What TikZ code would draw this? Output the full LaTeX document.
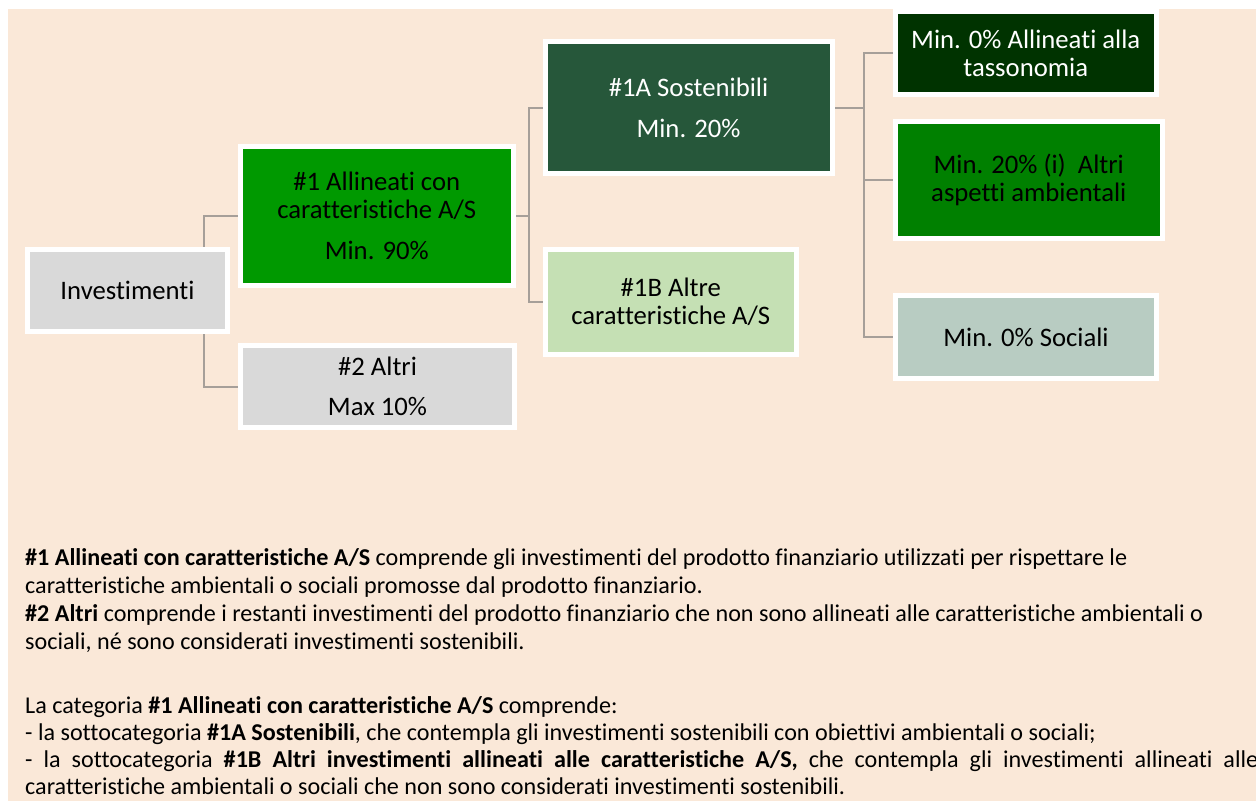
\documentclass[tikz,border=0pt]{standalone}
\usepackage{fontspec}
\setmainfont{Carlito}[Ligatures={NoCommon}]
\usetikzlibrary{calc}
\pgfdeclarelayer{back}
\pgfdeclarelayer{lines}
\pgfsetlayers{back,lines,main}
\definecolor{bgpeach}{RGB}{250,232,216}
\definecolor{cinv}{RGB}{217,217,217}
\definecolor{ca1}{RGB}{0,153,0}
\definecolor{cs1a}{RGB}{38,87,58}
\definecolor{cs1b}{RGB}{197,224,180}
\definecolor{ct0}{RGB}{0,51,0}
\definecolor{ct20}{RGB}{0,128,0}
\definecolor{csoc}{RGB}{184,204,194}
\definecolor{connc}{RGB}{166,159,153}
\newlength\mylw
\newlength\mylwb
\begin{document}
\global\setbox1=\hbox{\normalfont\fontsize{10}{12}\selectfont caratteristiche A/S}
\global\mylw=\wd1
\global\setbox2=\hbox{\normalfont\fontsize{10}{12}\selectfont\textbf{\#1 Allineati con caratteristiche A/S} comprende gli investimenti del prodotto finanziario utilizzati per rispettare le}
\global\mylwb=\wd2
\begin{tikzpicture}[x=1pt,y=-1pt,
  box/.style={draw=white, line width=5pt, inner sep=0pt, align=center,
    font=\fontsize{\boxfs}{28}\selectfont},
  conn/.style={draw=connc, line width=2pt},
  body/.style={anchor=base west, inner sep=0pt, font=\fontsize{\bodyfs}{26}\selectfont}]
\pgfmathsetmacro\boxfs{10*199/\mylw}
\pgfmathsetmacro\bodyfs{10*1102/\mylwb}
\useasboundingbox (0,0) rectangle (1256,801);
\begin{pgfonlayer}{back}
\fill[white] (0,0) rectangle (1256,801);
\fill[bgpeach] (8,9) rectangle (1256,801);
\end{pgfonlayer}
% boxes
\node[box, fill=cinv, minimum width=200, minimum height=82] (inv) at (127.5,290.5) {Investimenti};
\node[box, fill=ca1, minimum width=273.5, minimum height=139] (a1) at (376.75,216) {\#1 Allineati con\\caratteristiche A/S\\[12.5pt]Min. 90\%};
\node[box, fill=cinv, minimum width=274, minimum height=82] (a2) at (377.5,386.5) {\#2 Altri\\[12pt]Max 10\%};
\node[box, fill=cs1a, text=white, minimum width=287, minimum height=132] (s1a) at (688.5,107.5) {\#1A Sostenibili\\[13pt]Min. 20\%};
\node[box, fill=cs1b, minimum width=251.5, minimum height=105] (s1b) at (670.75,302) {\#1B Altre\\caratteristiche A/S};
\node[box, fill=ct0, text=white, minimum width=260.5, minimum height=83] (t0) at (1025.75,53) {Min. 0\% Allineati alla\\tassonomia};
\node[box, fill=ct20, minimum width=266.5, minimum height=117] (t20) at (1028.75,180) {Min. 20\% (i)\ \ Altri\\aspetti ambientali};
\node[box, fill=csoc, minimum width=261, minimum height=83] (soc) at (1026,337) {Min. 0\% Sociali};
% junctions
\coordinate (j1) at (204,300);
\coordinate (j2) at (529,216);
\coordinate (j3) at (864,107.5);
\begin{pgfonlayer}{lines}
\draw[conn] (a1.west) -| (j1) |- (a2.west);
\draw[conn] (a1.east) -- (j2);
\draw[conn] (s1a.west) -| (j2) |- (s1b.west);
\draw[conn] (s1a.east) -- (j3);
\draw[conn] (t0.west) -| (j3) |- (soc.west);
\draw[conn] (t20.west) -- (t20.west -| j3);
\end{pgfonlayer}
% body text
\begin{scope}
\clip (0,0) rectangle (1256,801);
\node[body] (p1) at (25,565) {\textbf{\#1 Allineati con caratteristiche A/S} comprende gli investimenti del prodotto finanziario utilizzati per rispettare le};
\node[body] (p2) at (25,593) {caratteristiche ambientali o sociali promosse dal prodotto finanziario.};
\node[body] (p3) at (25,621) {\textbf{\#2 Altri} comprende i restanti investimenti del prodotto finanziario che non sono allineati alle caratteristiche ambientali o};
\node[body] (p4) at (25,649) {sociali, né sono considerati investimenti sostenibili.};
\node[body] (p5) at (25,713) {La categoria \textbf{\#1 Allineati con caratteristiche A/S} comprende:};
\node[body] (p6) at (25,740) {- la sottocategoria \textbf{\#1A Sostenibili}, che contempla gli investimenti sostenibili con obiettivi ambientali o sociali;};
\node[body] (p7) at (25,767) {\makebox[1233pt][s]{- la sottocategoria \textbf{\#1B Altri investimenti allineati alle caratteristiche A/S,} che contempla gli investimenti allineati alle}};
\node[body] (p8) at (25,794) {caratteristiche ambientali o sociali che non sono considerati investimenti sostenibili.};
\end{scope}
\end{tikzpicture}
\end{document}
